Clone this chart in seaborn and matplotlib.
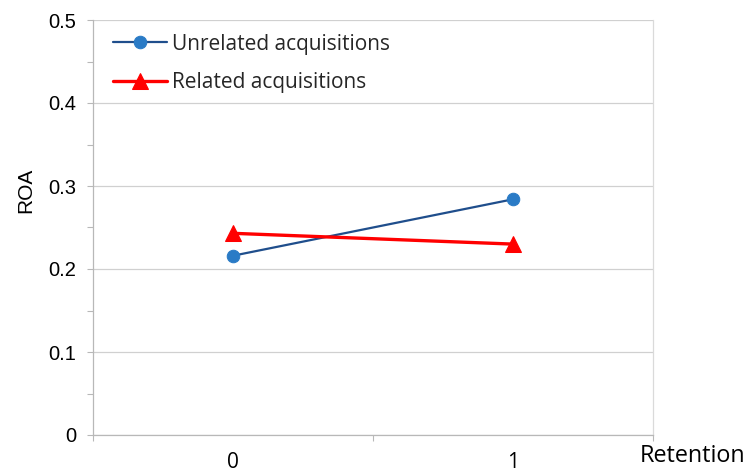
import matplotlib
matplotlib.use("Agg")
import matplotlib.pyplot as plt
from matplotlib.ticker import FixedLocator, MultipleLocator
import seaborn as sns
import pandas as pd

# Data
retention = [0, 1]
unrelated_roa = [0.216, 0.284]
related_roa = [0.243, 0.230]
series_names = ["Unrelated acquisitions", "Related acquisitions"]
y_ticks = [0, 0.1, 0.2, 0.3, 0.4, 0.5]
y_tick_labels = ["0", "0.1", "0.2", "0.3", "0.4", "0.5"]

sns.set_theme(style="white")
plt.rcParams["font.family"] = ["Liberation Sans", "DejaVu Sans"]
ui_font = ["Open Sans", "DejaVu Sans"]

fig = plt.figure(figsize=(7.48, 4.72), dpi=100)
ax = fig.add_axes([93 / 748, 1 - 435 / 472, (653 - 93) / 748, (435 - 20) / 472])

df_unrel = pd.DataFrame({"Retention": retention, "ROA": unrelated_roa})
df_rel = pd.DataFrame({"Retention": retention, "ROA": related_roa})

sns.lineplot(data=df_unrel, x="Retention", y="ROA", ax=ax, color="#1F4E8C",
             linewidth=1.6, marker="o", markersize=9, markerfacecolor="#2A7BC6",
             markeredgecolor="#2A7BC6", label=series_names[0], zorder=3)
sns.lineplot(data=df_rel, x="Retention", y="ROA", ax=ax, color="#FF0000",
             linewidth=2.4, marker="^", markersize=11.5, markerfacecolor="#FF0000",
             markeredgecolor="#FF0000", label=series_names[1], zorder=4)

ax.set_xlim(-0.5, 1.5)
ax.set_ylim(0, 0.5)

grid_col = "#D0D0D0"
axis_col = "#B8B8B8"

# y axis
ax.yaxis.set_major_locator(FixedLocator(y_ticks))
ax.set_yticklabels(y_tick_labels)
ax.yaxis.set_minor_locator(MultipleLocator(0.05))
ax.tick_params(axis="y", which="both", direction="out", length=4, width=0.8,
               color=axis_col, pad=8, labelsize=14.5, left=True, labelcolor="#000000")
ax.yaxis.grid(True, which="major", color=grid_col, linewidth=0.9)

# x axis: labels at category centres, tick marks at boundaries
ax.xaxis.set_major_locator(FixedLocator(retention))
ax.set_xticklabels([str(v) for v in retention], family=ui_font)
ax.xaxis.set_minor_locator(FixedLocator([-0.5, 0.5, 1.5]))
ax.tick_params(axis="x", which="major", length=0, labelsize=15, pad=12,
               labelcolor="#000000")
ax.tick_params(axis="x", which="minor", direction="out", length=4, width=0.8,
               color=axis_col, bottom=True)
ax.xaxis.grid(False)

ax.spines["top"].set_visible(False)
for side in ["left", "bottom", "right"]:
    ax.spines[side].set_visible(True)
    ax.spines[side].set_color(axis_col)
    ax.spines[side].set_linewidth(0.9)
ax.spines["right"].set_color("#DADADA")

ax.set_xlabel("")
ax.set_ylabel("ROA", fontsize=15, color="#000000")
ax.yaxis.set_label_coords(-0.103, 0.59)

fig.text(745 / 748, 1 - 456 / 472, "Retention", ha="right", va="center",
         fontsize=16.8, family=ui_font, color="#000000")

leg = ax.legend(loc="upper left", bbox_to_anchor=(0.007, 1.005), frameon=False,
                prop={"family": ui_font, "size": 15},
                handlelength=2.6, handletextpad=0.25, labelspacing=0.84,
                borderaxespad=0.35)

fig.savefig("out.png", dpi=100)
